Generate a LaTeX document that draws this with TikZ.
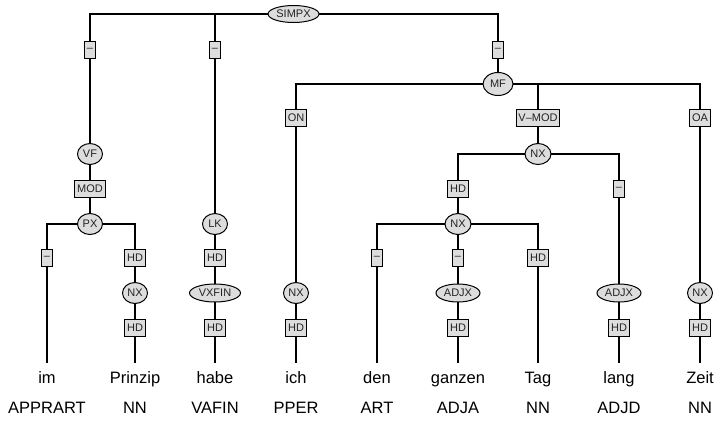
\documentclass[tikz,border=0pt]{standalone}
\usepackage{fontspec}
\setmainfont{Liberation Sans}
\usetikzlibrary{shapes.geometric}
\pgfdeclarelayer{bg}
\pgfsetlayers{bg,main}
\definecolor{nodefill}{RGB}{221,221,221}
\definecolor{labtext}{RGB}{35,35,35}
\tikzset{
  cat/.style={ellipse,draw,fill=nodefill,line width=1pt,inner sep=0pt,text=labtext,font=\fontsize{11}{12}\selectfont},
  rnd/.style={cat,minimum width=25pt,minimum height=21pt},
  lab/.style={rectangle,draw,fill=nodefill,line width=1pt,inner xsep=2.4pt,inner ysep=0pt,minimum height=17pt,text=labtext,font=\fontsize{11}{12}\selectfont},
  word/.style={anchor=base,inner xsep=0pt,inner ysep=8.5pt,text height=11.5pt,text depth=0pt,font=\fontsize{16.5}{18}\selectfont},
  tag/.style={anchor=base,inner sep=0pt,font=\fontsize{16.5}{18}\selectfont},
  edge/.style={line width=1.1pt}
}
\begin{document}
\begin{tikzpicture}[x=1pt,y=-1pt]
\useasboundingbox (0,0) rectangle (714,421);
% nodes
\node[cat,minimum width=51pt,minimum height=17pt] (simpx) at (293.5,14) {SIMPX};
\node[lab] (d1) at (90,50) {–};
\node[lab] (d2) at (215,50) {–};
\node[lab] (d3) at (498,50) {–};
\node[rnd] (vf) at (90,154) {VF};
\node[lab] (mod) at (90,189) {MOD};
\node[rnd] (px) at (90,224) {PX};
\node[lab] (pxd) at (47,258) {–};
\node[lab] (pxhd) at (135,258) {HD};
\node[rnd] (nx1) at (135,293) {NX};
\node[lab] (hd1) at (135,328) {HD};
\node[rnd] (lk) at (215,224) {LK};
\node[lab] (lkhd) at (215,258) {HD};
\node[cat,minimum width=51pt,minimum height=18pt] (vxfin) at (215,293) {VXFIN};
\node[lab] (hd2) at (215,328) {HD};
\node[cat,minimum width=30pt,minimum height=23pt] (mf) at (498,84) {MF};
\node[lab] (on) at (296,118) {ON};
\node[rnd] (nx3) at (296,293) {NX};
\node[lab] (hd3) at (296,328) {HD};
\node[lab] (vmod) at (538,118) {V–MOD};
\node[rnd,minimum width=26pt] (nxa) at (538,154) {NX};
\node[lab] (hda) at (458,189) {HD};
\node[lab] (dashb) at (619,189) {–};
\node[rnd,minimum width=26pt] (nxb) at (458,224) {NX};
\node[lab] (dc) at (377,258) {–};
\node[lab] (dd) at (458,258) {–};
\node[lab] (hde) at (538,258) {HD};
\node[cat,minimum width=44pt,minimum height=18pt] (adjx1) at (458,293) {ADJX};
\node[lab] (hd5) at (458,328) {HD};
\node[cat,minimum width=44pt,minimum height=18pt] (adjx2) at (619,293) {ADJX};
\node[lab] (hd6) at (619,328) {HD};
\node[lab] (oa) at (700,118) {OA};
\node[rnd] (nx4) at (700,293) {NX};
\node[lab] (hd7) at (700,328) {HD};
% words
\node[word] (w1) at (47,383) {im};
\node[word] (w2) at (135,383) {Prinzip};
\node[word] (w3) at (215,383) {habe};
\node[word] (w4) at (296,383) {ich};
\node[word] (w5) at (377,383) {den};
\node[word] (w6) at (458,383) {ganzen};
\node[word] (w7) at (538,383) {Tag};
\node[word] (w8) at (619,383) {lang};
\node[word] (w9) at (700,383) {Zeit};
% tags
\node[tag] (t1) at (47,413) {APPRART};
\node[tag] (t2) at (135,413) {NN};
\node[tag] (t3) at (215,413) {VAFIN};
\node[tag] (t4) at (296,413) {PPER};
\node[tag] (t5) at (377,413) {ART};
\node[tag] (t6) at (458,413) {ADJA};
\node[tag] (t7) at (538,413) {NN};
\node[tag] (t8) at (619,413) {ADJD};
\node[tag] (t9) at (700,413) {NN};
% edges
\begin{pgfonlayer}{bg}
\draw[edge] (simpx.center) -| (d1.center) -- (vf.center);
\draw[edge] (simpx.center) -| (d2.center) -- (lk.center);
\draw[edge] (simpx.center) -| (d3.center) -- (mf.center);
\draw[edge] (vf.center) -- (mod.center) -- (px.center);
\draw[edge] (px.center) -| (pxd.center) -- (w1.north);
\draw[edge] (px.center) -| (pxhd.center) -- (nx1.center) -- (hd1.center) -- (w2.north);
\draw[edge] (lk.center) -- (lkhd.center) -- (vxfin.center) -- (hd2.center) -- (w3.north);
\draw[edge] (mf.center) -| (on.center) -- (nx3.center) -- (hd3.center) -- (w4.north);
\draw[edge] (mf.center) -| (vmod.center) -- (nxa.center);
\draw[edge] (nxa.center) -| (hda.center) -- (nxb.center);
\draw[edge] (nxa.center) -| (dashb.center) -- (adjx2.center) -- (hd6.center) -- (w8.north);
\draw[edge] (nxb.center) -| (dc.center) -- (w5.north);
\draw[edge] (nxb.center) -| (dd.center) -- (adjx1.center) -- (hd5.center) -- (w6.north);
\draw[edge] (nxb.center) -| (hde.center) -- (w7.north);
\draw[edge] (mf.center) -| (oa.center) -- (nx4.center) -- (hd7.center) -- (w9.north);
\end{pgfonlayer}
\end{tikzpicture}
\end{document}
